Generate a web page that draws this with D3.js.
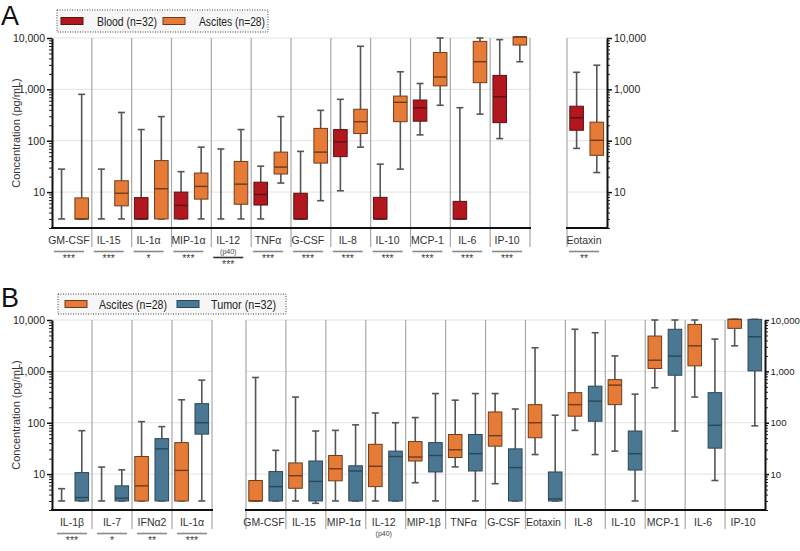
<!DOCTYPE html>
<html><head><meta charset="utf-8">
<script src="https://cdn.jsdelivr.net/npm/d3@7"></script>
<style>body{margin:0;background:#fff} text{font-family:"Liberation Sans",Arial,sans-serif}</style>
</head><body><svg id="c" width="800" height="551"></svg>
<script>
// ---------- DATA: each box = [min, q1, median, q3, max] (pg/mL) ----------
const catsA = ["GM-CSF","IL-15","IL-1α","MIP-1α","IL-12","TNFα","G-CSF","IL-8","IL-10","MCP-1","IL-6","IP-10"];
const sigA = ["***","***","*","***","***","***","***","***","***","***","***","***"];
const bloodA = [
 [3,3,3,3,28],[3,3,3,3,28],[3,3,3,7.8,165],[3,3,5.5,10,25],[3,3,3,3,69],[3,5.6,9,15.6,32],
 [3,3,3,9.5,62],[10.6,49,95,165,640],[3,3,3,7.9,35],[130,240,440,620,1300],[3,3,3,6.6,440],[110,225,720,1870,9300]
];
const ascitesA = [
 [3,3,3,7.7,800],[3,5.4,9.5,16.6,355],[3,3,11.6,41,295],[3,7.3,12.9,23.5,75],[3,5.8,14.3,39.5,165],[15,22.5,30.7,60,295],
 [6.8,36.7,60,174,390],[75,138,235,410,6900],[28,235,560,740,2200],[490,1170,1740,5200,10000],[330,1350,3450,8600,10000],[3450,7300,10500,10500,10500]
];
const catsA2 = ["Eotaxin"];
const sigA2 = ["**"];
const bloodA2 = [[71,160,280,470,2150]];
const ascitesA2 = [[24,52,102,230,2950]];

const catsB1 = ["IL-1β","IL-7","IFNα2","IL-1α"];
const sigB1 = ["***","*","**","***"];
const ascitesB1 = [[3,3,3,3,5.2],[3,3,3,3,13.7],[3,3,5.9,22,105],[3,3,11.8,41,280]];
const tumorB1 = [[3,3,3.5,10.7,70],[3,3,3.4,5.9,12.1],[3,3,31,49,84],[3,60,100,235,675]];

const catsB2 = ["GM-CSF","IL-15","MIP-1α","IL-12","MIP-1β","TNFα","G-CSF","Eotaxin","IL-8","IL-10","MCP-1","IL-6","IP-10"];
const ascitesB2 = [
 [3,3,3,7.5,760],[3,5.3,9.3,16.5,316],[3,7.4,12.7,23,71],[3,5.7,14.2,38,155],[6.8,18,21.5,43,126],[13.8,21,29.7,59,275],
 [6.5,35,56,162,370],[24,51,100,225,2880],[71,134,225,385,6600],[28,225,540,690,2000],[480,1140,1650,4870,10000],
 [316,1280,3140,8200,10000],[3140,6880,10300,10300,10300]
];
const tumorB2 = [
 [3,3,5.7,11.2,29],[2.7,3,7.2,18,69],[3,3,11.5,14.5,91],[3,3,22,28,100],[3,11,23,41,370],[3,11.5,25,59,370],
 [3,3,13.4,31,185],[3,3,3.3,11,140],[24,107,263,515,5650],[3,12,25,69,360],[69,840,1980,6600,10000],
 [7.5,32,89,385,4250],[87,1020,4720,10300,10300]
];
const majorTicks = [10,100,1000,10000];
const legendA = ["Blood (n=32)","Ascites (n=28)"];
const legendB = ["Ascites (n=28)","Tumor (n=32)"];

// ---------- STYLE ----------
const COL = {blood:"#b2161f", ascites:"#e57b36", tumor:"#4a7892"};
const STROKE = {blood:"#5a1212", ascites:"#6e3b1c", tumor:"#2c4656"};
const svg = d3.select("#c");
const minorTicks = [];
[1,10,100,1000].forEach(d=>{for(let k=2;k<=9;k++){ if(d*k>=2 && d*k<10000) minorTicks.push(d*k);} });

function yScale(top,bottom){ return d3.scaleLog().domain([2,10000]).range([bottom,top]); }

function drawPanel(o){
  const y = yScale(o.top,o.bottom);
  const x = d3.scaleBand().domain(o.cats).range([o.x0,o.x1]).padding(0);
  const bw = x.bandwidth();
  const g = svg.append("g");
  g.selectAll(".grid").data(majorTicks).join("line")
    .attr("x1",o.x0).attr("x2",o.x1).attr("y1",d=>y(d)).attr("y2",d=>y(d))
    .attr("stroke","#e2e2e2").attr("stroke-width",1);
  const seps = o.cats.map(c=>x(c)+bw).filter((v,i)=> o.lastSep || i<o.cats.length-1);
  if(o.leftSep) seps.push(o.x0);
  g.selectAll(".sep").data(seps).join("line")
    .attr("x1",d=>d).attr("x2",d=>d).attr("y1",o.top).attr("y2",o.sepBottom)
    .attr("stroke","#a8a8a8").attr("stroke-width",1.2);
  o.series.forEach((s,si)=>{
    const off = si===0 ? 0.24 : 0.745;
    const boxW = bw*0.34, capW = 7;
    s.data.forEach((v,i)=>{
      const cx = x(o.cats[i]) + bw*off;
      const [mn,q1,md,q3,mx] = v;
      const gg = g.append("g");
      gg.append("line").attr("x1",cx).attr("x2",cx).attr("y1",y(mx)).attr("y2",y(q3)).attr("stroke","#555").attr("stroke-width",1.6);
      gg.append("line").attr("x1",cx).attr("x2",cx).attr("y1",y(q1)).attr("y2",y(mn)).attr("stroke","#555").attr("stroke-width",1.6);
      [mn,mx].forEach(t=>gg.append("line").attr("x1",cx-capW/2).attr("x2",cx+capW/2).attr("y1",y(t)).attr("y2",y(t)).attr("stroke","#555").attr("stroke-width",1.6));
      if(q3>q1){
        gg.append("rect").attr("x",cx-boxW/2).attr("y",y(q3)).attr("width",boxW).attr("height",y(q1)-y(q3))
          .attr("fill",COL[s.key]).attr("stroke",STROKE[s.key]).attr("stroke-width",1);
        gg.append("line").attr("x1",cx-boxW/2).attr("x2",cx+boxW/2).attr("y1",y(md)).attr("y2",y(md))
          .attr("stroke",STROKE[s.key]).attr("stroke-width",1.4);
      }
    });
  });
  const axMaker = o.axisSide==="left" ? d3.axisLeft : d3.axisRight;
  const ax = o.axisSide==="left" ? o.x0 : o.x1;
  const tfs = o.tickFont || 10.5;
  const gMin = g.append("g").attr("transform",`translate(${ax},0)`)
    .call(axMaker(y).tickValues(minorTicks).tickSize(3).tickSizeOuter(0).tickFormat(""));
  gMin.select(".domain").remove();
  gMin.selectAll("line").attr("stroke","#222");
  const gMaj = g.append("g").attr("transform",`translate(${ax},0)`)
    .call(axMaker(y).tickValues(majorTicks).tickSize(o.tickLen||5).tickSizeOuter(0).tickPadding(o.tickPad||2).tickFormat(d3.format(",")));
  gMaj.select(".domain").attr("stroke","#111").attr("stroke-width",2);
  gMaj.selectAll("line").attr("stroke","#111").attr("stroke-width",1.5);
  gMaj.selectAll("text").attr("font-size",tfs).attr("fill","#222").attr("font-family","Liberation Sans, Arial, sans-serif");
  g.append("line").attr("x1",o.x0-1).attr("x2",o.x1+1).attr("y1",o.bottom).attr("y2",o.bottom).attr("stroke","#111").attr("stroke-width",2);
  o.cats.forEach((c,i)=>{
    const cx = x(c)+bw/2 + (o.labelShift||0);
    g.append("text").attr("x",cx).attr("y",o.bottom+16).attr("text-anchor","middle")
      .attr("font-size",10.5).attr("fill","#333").text(c);
    const isP40 = c==="IL-12";
    if(isP40) g.append("text").attr("x",cx).attr("y",o.bottom+25.5).attr("text-anchor","middle").attr("font-size",7).attr("fill","#444").text("(p40)");
    if(o.sig){
      const ly = o.bottom + (isP40 ? 29.5 : 23.5);
      g.append("line").attr("x1",cx-15).attr("x2",cx+15).attr("y1",ly).attr("y2",ly)
        .attr("stroke", isP40 ? "#333" : "#8a8a8a").attr("stroke-width",1.6);
      g.append("text").attr("x",cx).attr("y",ly+10).attr("text-anchor","middle").attr("font-size",10.5).attr("fill","#444").text(o.sig[i]);
    }
  });
}

drawPanel({cats:catsA, x0:52, x1:530, top:38, bottom:228, sepBottom:247, lastSep:true, axisSide:"left", labelShift:-3,
  sig:sigA, series:[{key:"blood",data:bloodA},{key:"ascites",data:ascitesA}]});
drawPanel({cats:catsA2, x0:567, x1:607, top:38, bottom:228, sepBottom:247, leftSep:true, lastSep:false, axisSide:"right", labelShift:-3,
  sig:sigA2, series:[{key:"blood",data:bloodA2},{key:"ascites",data:ascitesA2}]});
drawPanel({cats:catsB1, x0:52, x1:212, top:320, bottom:510, sepBottom:529, lastSep:true, axisSide:"left", labelShift:0,
  sig:sigB1, series:[{key:"ascites",data:ascitesB1},{key:"tumor",data:tumorB1}]});
drawPanel({cats:catsB2, x0:246, x1:765, top:320, bottom:510, sepBottom:529, leftSep:true, lastSep:false, axisSide:"right", labelShift:-2,
  tickFont:9.6, tickLen:4, tickPad:1.5,
  sig:null, series:[{key:"ascites",data:ascitesB2},{key:"tumor",data:tumorB2}]});

svg.append("text").attr("x",1).attr("y",25).attr("font-size",27).attr("fill","#111").text("A");
svg.append("text").attr("x",1).attr("y",307).attr("font-size",27).attr("fill","#111").text("B");
[133,415].forEach(cy=>{
  svg.append("text").attr("transform",`translate(20,${cy}) rotate(-90)`).attr("text-anchor","middle")
    .attr("font-size",11).attr("fill","#333").text("Concentration (pg/mL)");
});
function legend(x,y,w,h,items,keys,pos){
  svg.append("rect").attr("x",x).attr("y",y).attr("width",w).attr("height",h)
    .attr("fill","#f6f6f6").attr("stroke","#444").attr("stroke-dasharray","1,1.5").attr("stroke-width",1);
  items.forEach((t,i)=>{
    svg.append("rect").attr("x",pos[i][0]).attr("y",y+h/2-3.5).attr("width",22).attr("height",7)
      .attr("fill",COL[keys[i]]).attr("stroke",STROKE[keys[i]]).attr("stroke-width",1);
    svg.append("text").attr("x",pos[i][1]).attr("y",y+h/2+4.5).attr("font-size",12).attr("fill","#222")
      .attr("textLength",pos[i][2]).attr("lengthAdjust","spacingAndGlyphs").text(t);
  });
}
legend(57,10,211,22,legendA,["blood","ascites"],[[61,97,60],[163,199,66]]);
legend(58,294,228,20,legendB,["ascites","tumor"],[[65,99,68],[177,211,65]]);
</script></body></html>
